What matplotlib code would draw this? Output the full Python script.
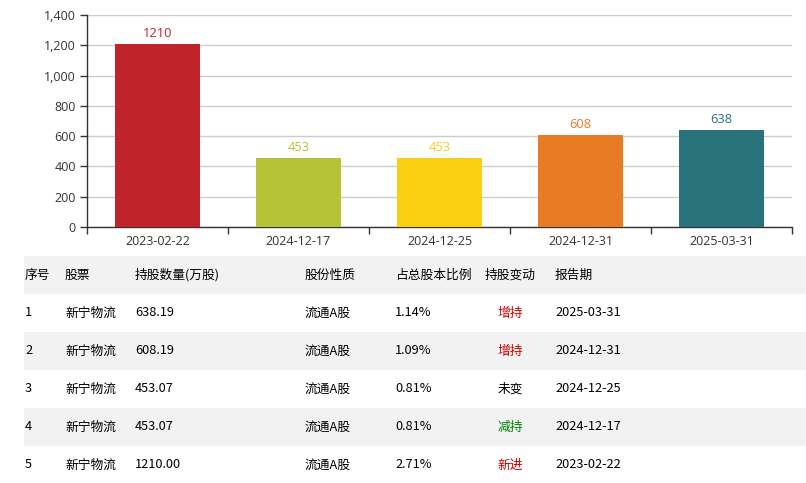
import matplotlib
matplotlib.use("Agg")
import matplotlib.pyplot as plt
from matplotlib.patches import Rectangle
from matplotlib.ticker import FuncFormatter, FixedLocator

# ---- data ----
dates = ["2023-02-22", "2024-12-17", "2024-12-25", "2024-12-31", "2025-03-31"]
shares = [1210, 453, 453, 608, 638]
bar_colors = ["#C1232B", "#B5C334", "#FCCE10", "#E87C25", "#27727B"]

headers = ["序号", "股票", "持股数量(万股)", "股份性质", "占总股本比例", "持股变动", "报告期"]
row_idx = ["1", "2", "3", "4", "5"]
row_stock = ["新宁物流"] * 5
row_amount = ["638.19", "608.19", "453.07", "453.07", "1210.00"]
row_type = ["流通A股"] * 5
row_ratio = ["1.14%", "1.09%", "0.81%", "0.81%", "2.71%"]
row_change = ["增持", "增持", "未变", "减持", "新进"]
row_date = ["2025-03-31", "2024-12-31", "2024-12-25", "2024-12-17", "2023-02-22"]
change_colors = {"增持": "#cc0000", "新进": "#cc0000", "减持": "#008000", "未变": "#000000"}

W, H = 806, 483
fig = plt.figure(figsize=(W / 100, H / 100), dpi=100)

# ---- bar chart ----
ax = fig.add_axes([87 / W, 1 - 227 / H, 705 / W, 212 / H])
x = list(range(len(dates)))
bars = ax.bar(x, shares, width=0.6, color=bar_colors, zorder=3)
ax.set_xlim(-0.5, len(dates) - 0.5)
ax.set_ylim(0, 1400)
ax.set_yticks(range(0, 1401, 200))
ax.yaxis.set_major_formatter(FuncFormatter(lambda v, p: f"{int(v):,}"))
ax.grid(axis="y", color="#cccccc", linewidth=1, zorder=0)
ax.set_xticks(x)
ax.set_xticklabels(dates)
ax.xaxis.set_minor_locator(FixedLocator([i - 0.5 for i in range(len(dates) + 1)]))
ax.tick_params(axis="x", which="major", length=0, pad=6)
ax.tick_params(axis="x", which="minor", length=5, width=1, color="#333333", direction="out")
ax.tick_params(axis="y", length=5, width=1, color="#333333", pad=3)
for lab in ax.get_xticklabels() + ax.get_yticklabels():
    lab.set_fontfamily(["Open Sans", "DejaVu Sans"])
    lab.set_fontsize(9)
    lab.set_color("#333333")
for s in ["top", "right"]:
    ax.spines[s].set_visible(False)
for s in ["left", "bottom"]:
    ax.spines[s].set_color("#333333")
    ax.spines[s].set_linewidth(1)
for b, v, c in zip(bars, shares, bar_colors):
    ax.annotate(str(v), (b.get_x() + b.get_width() / 2, v), xytext=(0, 3),
                textcoords="offset points", ha="center", va="bottom",
                color=c, fontsize=9.3, fontfamily=["Open Sans", "DejaVu Sans"])

# ---- table ----
tax = fig.add_axes([0, 0, 1, 1])
tax.set_xlim(0, W)
tax.set_ylim(H, 0)
tax.axis("off")
row_top = 256
row_h = 38
col_x = [25, 65, 135, 305, 395, 485, 555]
font = ["Noto Sans CJK SC", "DejaVu Sans"]
n_rows = len(row_idx) + 1
for r in range(n_rows):
    if r % 2 == 0:
        tax.add_patch(Rectangle((24, row_top + r * row_h), W - 24, row_h,
                                facecolor="#f2f2f2", edgecolor="none"))
for cx, h in zip(col_x, headers):
    tax.text(cx, row_top + row_h / 2, h, ha="left", va="center",
             fontsize=9.2, fontfamily=font, color="#000000")
for i in range(len(row_idx)):
    yc = row_top + (i + 1) * row_h + row_h / 2
    vals = [row_idx[i], row_stock[i], row_amount[i], row_type[i], row_ratio[i]]
    for cx, v in zip(col_x[:5], vals):
        tax.text(cx, yc, v, ha="left", va="center", fontsize=9.2,
                 fontfamily=font, color="#000000")
    tax.text(510, yc, row_change[i], ha="center", va="center", fontsize=9.2,
             fontfamily=font, color=change_colors[row_change[i]])
    tax.text(col_x[6], yc, row_date[i], ha="left", va="center", fontsize=9.2,
             fontfamily=font, color="#000000")

fig.savefig("out.png", dpi=100)
